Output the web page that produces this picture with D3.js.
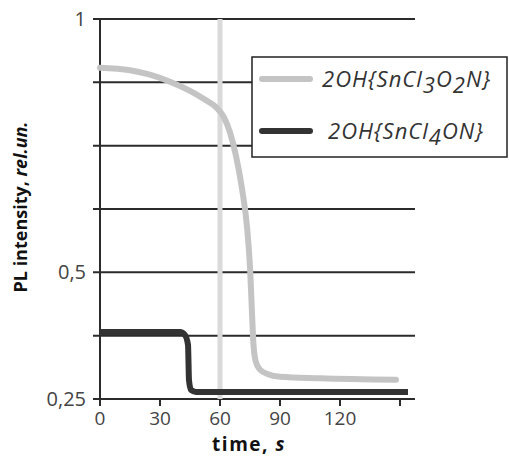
<!DOCTYPE html>
<html><head><meta charset="utf-8">
<script src="https://cdn.jsdelivr.net/npm/d3@7"></script>
<style>body{margin:0;background:#fff}svg{display:block}</style>
</head><body>
<svg id="c" width="509" height="457"></svg>
<script>
// ---- data ----
const xTicks = [0, 30, 60, 90, 120, 150];
const xTickLabels = ["0", "30", "60", "90", "120", ""];
const yGrid = [0.25, 0.375, 0.5, 0.625, 0.75, 0.875, 1];
const yTickLabels = {"0.25": "0,25", "0.5": "0,5", "1": "1"};
const markerTime = 60;
const seriesNames = ["2OH{SnCl3O2N}", "2OH{SnCl4ON}"];
const grayT = [0, 15, 25, 35, 45, 52, 58, 62, 65, 68, 71, 73.5, 75, 76, 76.7, 77.8, 80, 84, 90, 110, 148];
const grayV = [0.904, 0.899, 0.890, 0.876, 0.858, 0.842, 0.826, 0.806, 0.776, 0.730, 0.665, 0.590, 0.510, 0.420, 0.360, 0.325, 0.308, 0.299, 0.294, 0.291, 0.288];
const darkT = [0, 40, 42.5, 44, 44.5, 45.5, 48, 154];
const darkV = [0.382, 0.382, 0.376, 0.357, 0.287, 0.268, 0.264, 0.264];

// ---- chart ----
const svg = d3.select("#c");
const x = d3.scaleLinear().domain([0, 150]).range([100, 400]);
const y = d3.scaleLinear().domain([0.25, 1]).range([399, 19]);
const gridX0 = 93, gridX1 = 415;
const ink = "#2b2b2b";

// gridlines
svg.append("g").selectAll("line").data(yGrid).join("line")
  .attr("x1", gridX0).attr("x2", gridX1)
  .attr("y1", d => y(d)).attr("y2", d => y(d))
  .attr("stroke", ink).attr("stroke-width", 2);

// y axis line
svg.append("line").attr("x1", x(0)).attr("x2", x(0))
  .attr("y1", y(1)).attr("y2", y(0.25) + 7)
  .attr("stroke", ink).attr("stroke-width", 2);

// x ticks
svg.append("g").selectAll("line").data(xTicks).join("line")
  .attr("x1", d => x(d)).attr("x2", d => x(d))
  .attr("y1", y(0.25)).attr("y2", y(0.25) + 7)
  .attr("stroke", ink).attr("stroke-width", 2);

// tick labels
svg.append("g").selectAll("text").data(xTicks).join("text")
  .attr("x", d => x(d)).attr("y", 425)
  .attr("text-anchor", "middle")
  .attr("font-family", "Open Sans").attr("font-size", 19).attr("fill", "#444")
  .text((d, i) => xTickLabels[i]);

svg.append("g").selectAll("text").data(yGrid.filter(d => yTickLabels[String(d)])).join("text")
  .attr("x", 86).attr("y", d => y(d) + 7)
  .attr("text-anchor", "end")
  .attr("font-family", "Open Sans").attr("font-size", 20).attr("fill", "#444")
  .text(d => yTickLabels[String(d)]);

// marker vertical line
svg.append("line").attr("x1", x(markerTime)).attr("x2", x(markerTime))
  .attr("y1", y(1)).attr("y2", y(0.25))
  .attr("stroke", "#dadada").attr("stroke-width", 5);

const line = d3.line().x(d => x(d[0])).y(d => y(d[1])).curve(d3.curveMonotoneX);
const grayData = grayT.map((t, i) => [t, grayV[i]]);
const darkData = darkT.map((t, i) => [t, darkV[i]]);

svg.append("path").attr("d", line(grayData)).attr("fill", "none")
  .attr("stroke", "#c4c4c4").attr("stroke-width", 6).attr("stroke-linecap", "round").attr("stroke-linejoin", "round");
svg.append("path").attr("d", line(darkData)).attr("fill", "none")
  .attr("stroke", "#333").attr("stroke-width", 6).attr("stroke-linejoin", "round");

// legend
const lg = svg.append("g");
lg.append("rect").attr("x", 252).attr("y", 57).attr("width", 255).attr("height", 100)
  .attr("fill", "#fff").attr("stroke", "#222").attr("stroke-width", 1.5);
const legColors = ["#c4c4c4", "#333"];
const legY = [79, 131];
lg.selectAll("line").data(seriesNames).join("line")
  .attr("x1", 262).attr("x2", 310)
  .attr("y1", (d, i) => legY[i]).attr("y2", (d, i) => legY[i])
  .attr("stroke", (d, i) => legColors[i]).attr("stroke-width", 6).attr("stroke-linecap", "round");

function subText(sel, label) {
  const parts = label.match(/(\d+|[^\d]+)/g);
  let sub = false;
  parts.forEach((p, i) => {
    const isSub = /^\d+$/.test(p) && i > 0;
    const t = sel.append("tspan").text(p);
    if (isSub && !sub) { t.attr("dy", 6); sub = true; }
    else if (!isSub && sub) { t.attr("dy", -6); sub = false; }
  });
}
const legTextX = [322, 328];
const legTextY = [87, 139];
seriesNames.forEach((n, i) => {
  const t = lg.append("text").attr("x", legTextX[i]).attr("y", legTextY[i])
    .attr("font-family", "Open Sans").attr("font-style", "italic")
    .attr("font-size", 22).attr("letter-spacing", 1).attr("fill", "#333");
  subText(t, n);
});

// axis titles
const xt = svg.append("text").attr("x", 249).attr("y", 451).attr("text-anchor", "middle")
  .attr("font-family", "Open Sans").attr("font-weight", "bold").attr("font-size", 19)
  .attr("letter-spacing", 1.5).attr("fill", "#111");
xt.append("tspan").text("time, ");
xt.append("tspan").attr("font-style", "italic").text("s");

const yt = svg.append("text").attr("transform", "translate(27,207) rotate(-90)").attr("text-anchor", "middle")
  .attr("font-family", "Open Sans").attr("font-weight", "bold").attr("font-size", 18).attr("fill", "#111");
yt.append("tspan").text("PL intensity, ");
yt.append("tspan").attr("font-style", "italic").text("rel.un.");
</script>
</body></html>
